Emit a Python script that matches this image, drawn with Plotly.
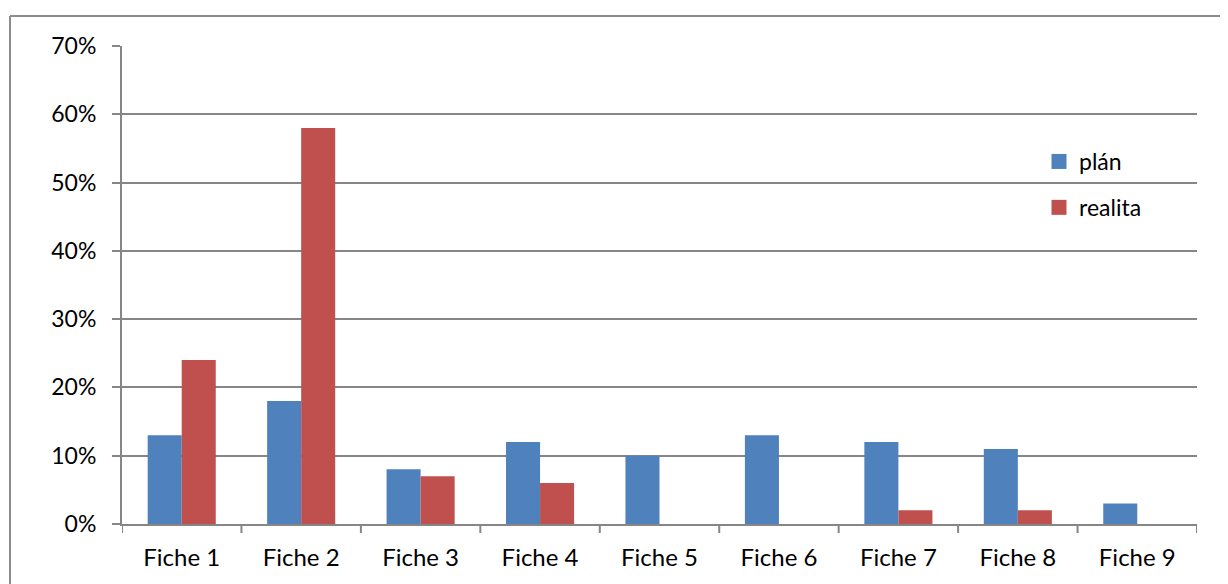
import plotly.graph_objects as go

categories = ["Fiche 1", "Fiche 2", "Fiche 3", "Fiche 4", "Fiche 5",
              "Fiche 6", "Fiche 7", "Fiche 8", "Fiche 9"]
plan = [0.13, 0.18, 0.08, 0.12, 0.10, 0.13, 0.12, 0.11, 0.03]
realita = [0.24, 0.58, 0.07, 0.06, 0.0, 0.0, 0.02, 0.02, 0.0]
y_ticks = [0, 0.1, 0.2, 0.3, 0.4, 0.5, 0.6, 0.7]
y_labels = ["0%", "10%", "20%", "30%", "40%", "50%", "60%", "70%"]

FONT = "Lato"
OFF = 8  # page body margin
W, H = 1228 - OFF, 584 - OFF
# plot area in screen pixels: x 122..1197, y 46..524
ML = 122 - OFF
MT = 46 - OFF
MR = W - (1197 - OFF)
MB = H - (524 - OFF)
PW, PH = W - ML - MR, H - MT - MB

def px(x):
    return (x - OFF - ML) / PW

def py(y):
    return (H - MB - (y - OFF)) / PH

BLUE, RED = "#4F81BD", "#C0504D"

fig = go.Figure()
fig.add_trace(go.Bar(x=categories, y=plan, name="plán", showlegend=False,
                     marker=dict(color=BLUE, line=dict(width=0))))
fig.add_trace(go.Bar(x=categories, y=realita, name="realita", showlegend=False,
                     marker=dict(color=RED, line=dict(width=0))))
# legend entries with larger square swatches
fig.add_trace(go.Scatter(x=[None], y=[None], mode="markers", name="plán",
                         legendgroup="a",
                         marker=dict(symbol="square", size=15, color=BLUE)))
fig.add_trace(go.Scatter(x=[None], y=[None], mode="markers", name="realita",
                         legendgroup="b",
                         marker=dict(symbol="square", size=15, color=RED)))

grid = "#868686"
FS = 23
fig.update_layout(
    width=W, height=H,
    margin=dict(l=ML, r=MR, t=MT, b=MB, autoexpand=False),
    paper_bgcolor="white", plot_bgcolor="white",
    barmode="group", bargap=0.43, bargroupgap=0,
    font=dict(family=FONT, size=FS, color="#000000"),
    xaxis=dict(range=[-0.5, 8.5], showgrid=False, showline=True,
               linecolor=grid, linewidth=2, ticks="outside", ticklen=0,
               tickfont=dict(size=24), fixedrange=True, ticklabelstandoff=11),
    yaxis=dict(range=[0, 0.7], tickvals=y_ticks, ticktext=y_labels,
               showgrid=True, gridcolor=grid, gridwidth=1.5,
               showline=True, linecolor=grid, linewidth=2,
               ticks="outside", ticklen=8, tickcolor=grid, tickwidth=1.5,
               tickfont=dict(size=FS), zeroline=False, ticklabelstandoff=11),
    legend=dict(x=px(1039), y=py(140), xanchor="left", yanchor="top",
                font=dict(size=FS), tracegroupgap=13, bgcolor="rgba(0,0,0,0)",
                itemwidth=30),
    showlegend=True,
)

# category separator ticks on x axis
for i in range(len(categories) + 1):
    fig.add_shape(type="line", xref="x", yref="paper",
                  x0=i - 0.5, x1=i - 0.5, y0=0, y1=py(533),
                  line=dict(color=grid, width=2))

# outer chart border (top and left visible)
fig.add_shape(type="line", xref="paper", yref="paper",
              x0=px(10), x1=px(1240), y0=py(16), y1=py(16),
              line=dict(color="#8C8C8C", width=2))
fig.add_shape(type="line", xref="paper", yref="paper",
              x0=px(10), x1=px(10), y0=py(16), y1=py(600),
              line=dict(color="#8C8C8C", width=2))

fig.write_html("out.html")
